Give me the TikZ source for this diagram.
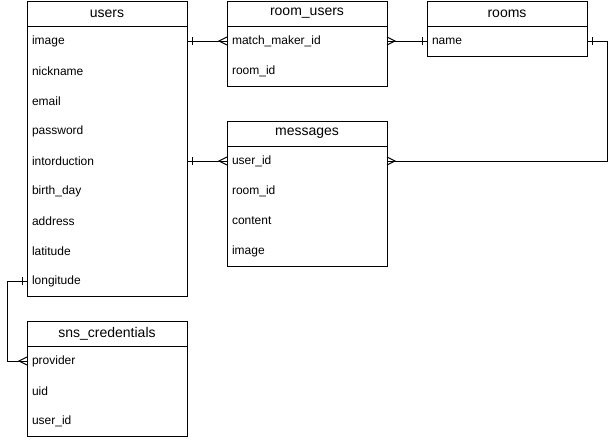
\documentclass[tikz,border=0pt]{standalone}
\usepackage{fontspec}
\setmainfont{Liberation Sans}
\usetikzlibrary{calc}
\begin{document}
\begin{tikzpicture}[x=0.75pt,y=-0.75pt,line width=0.75pt,
  hdr/.style={draw,minimum width=120pt,minimum height=18.75pt,inner sep=0pt,
    outer sep=0pt,anchor=north west,font=\fontsize{10.5}{12}\selectfont},
  row/.style={minimum width=120pt,minimum height=22.5pt,text width=112.5pt,
    inner xsep=3.75pt,inner ysep=0pt,outer sep=0pt,align=left,anchor=north,
    font=\fontsize{9}{11}\selectfont},
  one/.pic={\draw (5,-4) -- (5,4);},
  many/.pic={\draw (0,-4) -- (8,0) -- (0,4);}]
\useasboundingbox (0,0) rectangle (616,440);

% users
\node[hdr] (users) at (27,1) {users};
\node[row] (u1) at (users.south) {image};
\node[row] (u2) at (u1.south) {nickname};
\node[row] (u3) at (u2.south) {email};
\node[row] (u4) at (u3.south) {password};
\node[row] (u5) at (u4.south) {intorduction};
\node[row] (u6) at (u5.south) {birth\_day};
\node[row] (u7) at (u6.south) {address};
\node[row] (u8) at (u7.south) {latitude};
\node[row] (u9) at (u8.south) {longitude};
\draw (users.north west) rectangle (u9.south east);

% room_users
\node[hdr] (roomusers) at (227,1) {room\_users};
\node[row] (ru1) at (roomusers.south) {match\_maker\_id};
\node[row] (ru2) at (ru1.south) {room\_id};
\draw (roomusers.north west) rectangle (ru2.south east);

% rooms
\node[hdr] (rooms) at (427,1) {rooms};
\node[row] (ro1) at (rooms.south) {name};
\draw (rooms.north west) rectangle (ro1.south east);

% messages
\node[hdr] (messages) at (227,121) {messages};
\node[row] (m1) at (messages.south) {user\_id};
\node[row] (m2) at (m1.south) {room\_id};
\node[row] (m3) at (m2.south) {content};
\node[row] (m4) at (m3.south) {image};
\draw (messages.north west) rectangle (m4.south east);

% sns_credentials
\node[hdr] (sns) at (27,321) {sns\_credentials};
\node[row] (s1) at (sns.south) {provider};
\node[row] (s2) at (s1.south) {uid};
\node[row] (s3) at (s2.south) {user\_id};
\draw (sns.north west) rectangle (s3.south east);

% relations
\draw (u1.east) -- (ru1.west);
\pic at (u1.east) {one};
\pic[rotate=180] at (ru1.west) {many};

\draw (ru1.east) -- (ro1.west);
\pic at (ru1.east) {many};
\pic[rotate=180] at (ro1.west) {one};

\draw (ro1.east) -- ++(20,0) |- (m1.east);
\pic at (ro1.east) {one};
\pic at (m1.east) {many};

\draw (u5.east) -- (m1.west);
\pic at (u5.east) {one};
\pic[rotate=180] at (m1.west) {many};

\draw (u9.west) -- ++(-20,0) |- (s1.west);
\pic[rotate=180] at (u9.west) {one};
\pic[rotate=180] at (s1.west) {many};
\end{tikzpicture}
\end{document}
